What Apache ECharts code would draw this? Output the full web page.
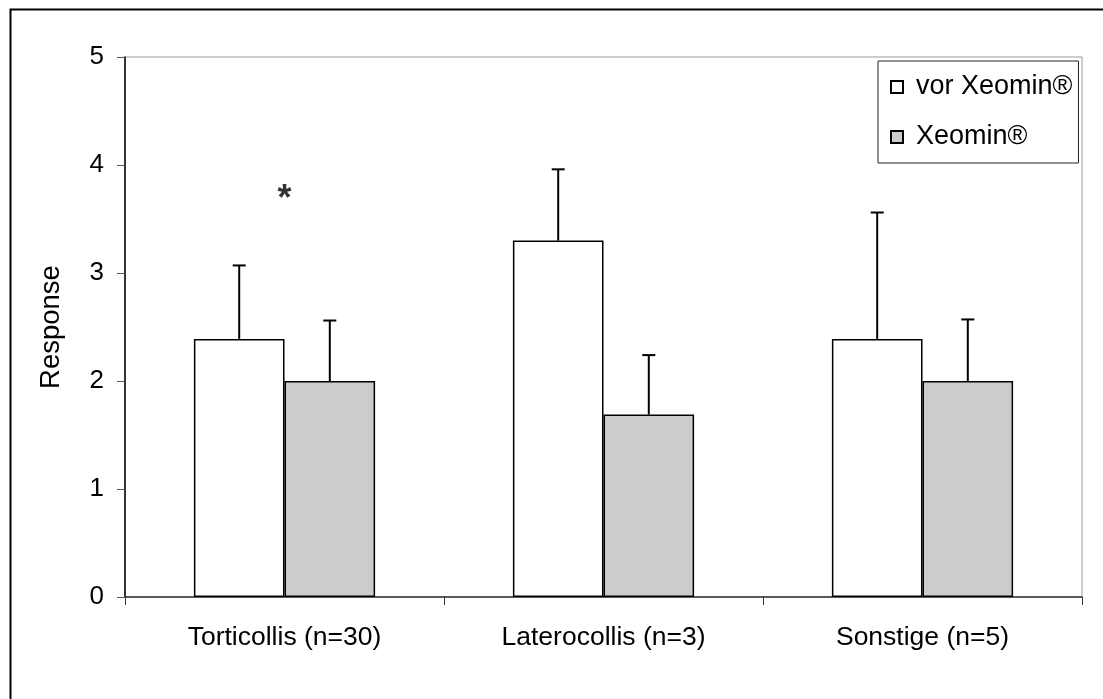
<!DOCTYPE html>
<html>
<head>
<meta charset="utf-8">
<script src="https://cdn.jsdelivr.net/npm/echarts@6/dist/echarts.min.js"></script>
<style>
html,body{margin:0;padding:0;background:#fff;}
#chart{width:1103px;height:699px;}
</style>
</head>
<body>
<div id="chart"></div>
<script>
const categories = ['Torticollis (n=30)', 'Laterocollis (n=3)', 'Sonstige (n=5)'];
const seriesNames = ['vor Xeomin®', 'Xeomin®'];
const vorValues = [2.39, 3.30, 2.39];
const vorErrors = [0.68, 0.66, 1.17];
const xeoValues = [2.0, 1.69, 2.0];
const xeoErrors = [0.56, 0.55, 0.57];
const yTicks = [0, 1, 2, 3, 4, 5];
const starCategory = 'Torticollis (n=30)';
const starValue = 3.74;

const FONT = 'Liberation Sans, Arial, sans-serif';
const CAT_GAP = 0.432;

function errorSeries(values, errors, side) {
  return {
    type: 'custom',
    z: 5,
    silent: true,
    data: values.map((v, i) => [i, v, errors[i]]),
    renderItem: function (params, api) {
      const idx = api.value(0), v = api.value(1), e = api.value(2);
      const catW = api.size([1, 0])[0];
      const bw = catW * (1 - CAT_GAP) / 2;
      const off = side * bw / 2;
      const p0 = api.coord([idx, v]);
      const p1 = api.coord([idx, v + e]);
      const x = p0[0] + off;
      const cap = 6.5;
      const st = {stroke: '#000', lineWidth: 2};
      return {
        type: 'group',
        children: [
          {type: 'line', shape: {x1: x, y1: p0[1], x2: x, y2: p1[1]}, style: st},
          {type: 'line', shape: {x1: x - cap, y1: p1[1], x2: x + cap, y2: p1[1]}, style: st}
        ]
      };
    }
  };
}

const chart = echarts.init(document.getElementById('chart'), null, {renderer: 'canvas'});
chart.setOption({
  animation: false,
  backgroundColor: '#fff',
  textStyle: {fontFamily: FONT},
  graphic: [{
    type: 'rect', left: 8, top: 7, z: 100,
    shape: {x: 0, y: 0, width: 1200, height: 800},
    style: {fill: 'none', stroke: '#000', lineWidth: 2}
  }],
  grid: {
    left: 125, top: 57, width: 957, height: 540,
    show: true, borderColor: '#999', borderWidth: 1, backgroundColor: 'transparent'
  },
  legend: {
    data: seriesNames,
    orient: 'vertical',
    left: 878, top: 61,
    padding: [11, 6, 11, 12],
    itemGap: 20,
    itemWidth: 12, itemHeight: 12,
    icon: 'rect',
    borderColor: '#222', borderWidth: 1,
    backgroundColor: '#fff',
    textStyle: {fontSize: 27, fontFamily: FONT, color: '#000', lineHeight: 30, padding: [0, 0, 0, 8]}
  },
  xAxis: {
    type: 'category',
    data: categories,
    axisLine: {lineStyle: {color: '#333', width: 1.5}},
    axisTick: {show: true, alignWithLabel: false, length: 8, lineStyle: {color: '#333'}},
    axisLabel: {fontSize: 26.5, color: '#000', fontFamily: FONT, margin: 27}
  },
  yAxis: {
    type: 'value',
    min: 0, max: 5, interval: 1,
    name: 'Response',
    nameLocation: 'middle',
    nameGap: 60,
    nameTextStyle: {fontSize: 27.5, color: '#000', fontFamily: FONT},
    axisLine: {show: true, lineStyle: {color: '#000', width: 1.5}},
    axisTick: {show: true, length: 8, lineStyle: {color: '#555'}},
    splitLine: {show: false},
    axisLabel: {fontSize: 26, color: '#000', fontFamily: FONT, margin: 21,
      formatter: v => yTicks.includes(v) ? String(v) : ''}
  },
  series: [
    {
      name: seriesNames[0], type: 'bar', data: vorValues,
      barGap: '0%', barCategoryGap: (CAT_GAP * 100) + '%',
      itemStyle: {color: '#ffffff', borderColor: '#000', borderWidth: 1.5}
    },
    {
      name: seriesNames[1], type: 'bar', data: xeoValues,
      barGap: '0%', barCategoryGap: (CAT_GAP * 100) + '%',
      itemStyle: {color: '#cccccc', borderColor: '#000', borderWidth: 1.5}
    },
    errorSeries(vorValues, vorErrors, -1),
    errorSeries(xeoValues, xeoErrors, 1),
    {
      type: 'scatter', silent: true,
      data: [[starCategory, starValue]],
      symbolSize: 0,
      label: {show: true, position: 'inside', formatter: '*', fontSize: 36, fontWeight: 'bold', color: '#000', fontFamily: FONT, offset: [0, 7]}
    }
  ]
});
</script>
</body>
</html>
